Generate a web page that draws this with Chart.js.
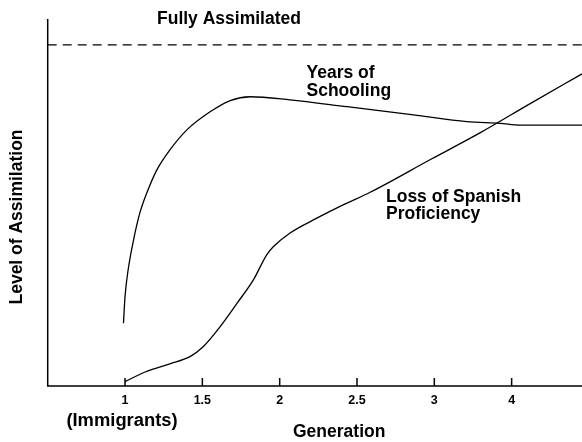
<!DOCTYPE html>
<html>
<head>
<meta charset="utf-8">
<script src="https://cdn.jsdelivr.net/npm/chart.js@4"></script>
<style>
  html, body { margin: 0; padding: 0; background: #fff; }
  canvas { display: block; }
</style>
</head>
<body>
<canvas id="assimChart" width="582" height="442"></canvas>
<script>
/* ========================================================
   DATA  (x = position on the generation axis, 1 -> "1", 6 -> "4")
======================================================== */
const tickPositions    = [1, 2, 3, 4, 5, 6];
const generationLabels = ['1', '1.5', '2', '2.5', '3', '4'];

const schoolingX = [0.98, 1.00, 1.04, 1.11, 1.19, 1.28, 1.41, 1.58, 1.80, 2.10, 2.36, 2.62, 3.13, 3.87, 4.73, 5.42, 5.85, 6.11, 6.91];
const schoolingY = [18.4, 26.2, 34.0, 42.8, 50.6, 56.5, 63.3, 69.2, 75.1, 80.4, 83.7, 84.8, 83.9, 81.9, 79.5, 77.5, 77.0, 76.5, 76.5];

const spanishX = [1.00, 1.26, 1.58, 1.84, 2.01, 2.23, 2.45, 2.66, 2.83, 2.92, 3.13, 3.48, 3.82, 4.17, 4.95, 5.59, 6.24, 6.91];
const spanishY = [1.3,  4.1,  6.5,  8.6,  11.5, 17.4, 24.3, 31.1, 38.4, 40.9, 44.8, 49.2, 53.1, 56.8, 66.4, 74.2, 82.8, 91.5];

const fullyAssimilatedLevel = 100;
const xMax = 6.91;
const yMax = 107.6;

const FONT = '"Liberation Sans", Arial, Helvetica, sans-serif';

function toPoints(xs, ys) {
    return xs.map((x, i) => ({ x: x, y: ys[i] }));
}

/* ========================================================
   AXES + ANNOTATIONS PLUGIN
======================================================== */
const decorations = {
    id: 'decorations',
    afterDraw(chart) {
        const ctx = chart.ctx;
        const xs  = chart.scales.x;
        const area = chart.chartArea;

        ctx.save();
        ctx.strokeStyle = '#000';
        ctx.lineWidth   = 1.5;
        ctx.setLineDash([]);

        // axis lines
        ctx.beginPath();
        ctx.moveTo(area.left, area.top);
        ctx.lineTo(area.left, area.bottom);
        ctx.lineTo(area.right, area.bottom);
        ctx.stroke();

        // tick marks (pointing into the plot) and labels
        ctx.fillStyle = '#000';
        ctx.font = 'bold 12.5px ' + FONT;
        ctx.textAlign = 'center';
        ctx.textBaseline = 'alphabetic';
        tickPositions.forEach((p, i) => {
            const px = xs.getPixelForValue(p);
            ctx.beginPath();
            ctx.moveTo(px, area.bottom);
            ctx.lineTo(px, area.bottom - 8);
            ctx.stroke();
            ctx.fillText(generationLabels[i], px, 404);
        });

        ctx.font = 'bold 17.5px ' + FONT;
        ctx.save();
        ctx.translate(xs.getPixelForValue(1) - 3, 426);
        ctx.scale(1.05, 1);
        ctx.fillText('(Immigrants)', 0, 0);
        ctx.restore();

        ctx.textAlign = 'left';
        ctx.fillText('Generation', 293, 436.5);
        ctx.fillText('Fully Assimilated', 157, 23.5);
        ctx.fillText('Years of', 306.5, 78);
        ctx.fillText('Schooling', 306.5, 96);
        ctx.fillText('Loss of Spanish', 386, 201.5);
        ctx.fillText('Proficiency', 386, 218.5);

        // y title
        ctx.translate(21.5, 217);
        ctx.rotate(-Math.PI / 2);
        ctx.textAlign = 'center';
        ctx.fillText('Level of Assimilation', 0, 0);
        ctx.restore();
    }
};

/* ========================================================
   CHART
======================================================== */
const lineStyle = {
    showLine: true,
    borderColor: '#000',
    borderWidth: 1.3,
    pointRadius: 0,
    fill: false,
};

new Chart(document.getElementById('assimChart').getContext('2d'), {
    type: 'scatter',
    data: {
        datasets: [
            Object.assign({
                label: 'Years of Schooling',
                data: toPoints(schoolingX, schoolingY),
                cubicInterpolationMode: 'monotone',
            }, lineStyle),
            Object.assign({
                label: 'Loss of Spanish Proficiency',
                data: toPoints(spanishX, spanishY),
                cubicInterpolationMode: 'monotone',
            }, lineStyle),
            Object.assign({
                label: 'Fully Assimilated',
                data: [{ x: 0, y: fullyAssimilatedLevel }, { x: xMax, y: fullyAssimilatedLevel }],
                borderDash: [9, 6],
            }, lineStyle),
        ]
    },
    options: {
        responsive: false,
        animation: false,
        layout: { padding: { left: 47.7, top: 19, right: 0, bottom: 56 } },
        scales: {
            x: { type: 'linear', min: 0, max: xMax, display: false },
            y: { type: 'linear', min: 0, max: yMax, display: false }
        },
        plugins: {
            legend: { display: false },
            tooltip: { enabled: false }
        }
    },
    plugins: [decorations]
});
</script>
</body>
</html>
